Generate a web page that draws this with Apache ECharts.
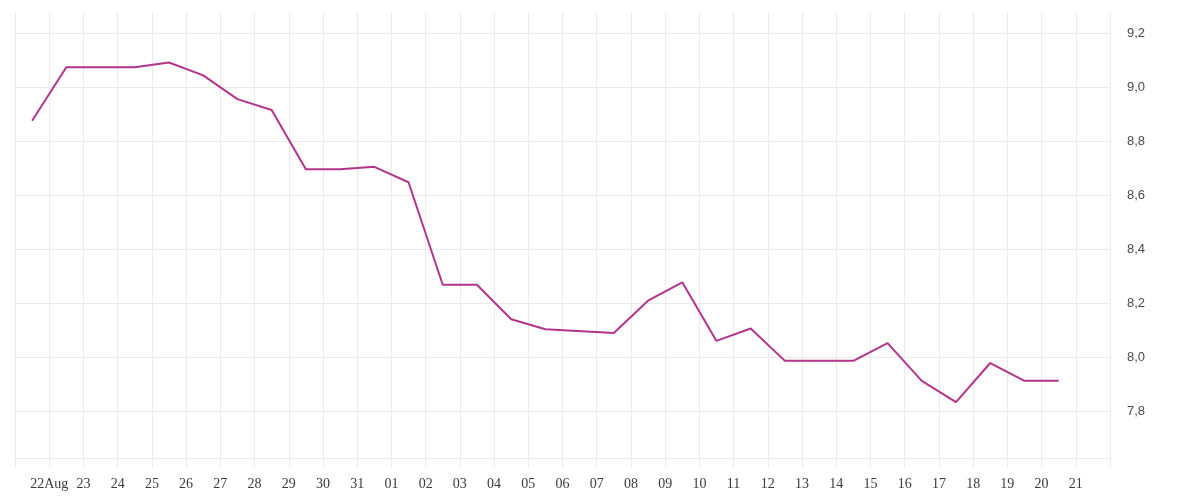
<!DOCTYPE html>
<html>
<head>
<meta charset="utf-8">
<script src="https://cdn.jsdelivr.net/npm/echarts@6/dist/echarts.min.js"></script>
<style>html,body{margin:0;padding:0;background:#fff}#c{width:1200px;height:500px}</style>
</head>
<body>
<div id="c"></div>
<script>
const dates = [
  "2024-08-21T12:00","2024-08-22T12:00","2024-08-24T12:00","2024-08-25T12:00",
  "2024-08-26T12:00","2024-08-27T12:00","2024-08-28T12:00","2024-08-29T12:00",
  "2024-08-30T12:00","2024-08-31T12:00","2024-09-01T12:00","2024-09-02T12:00",
  "2024-09-03T12:00","2024-09-04T12:00","2024-09-05T12:00","2024-09-07T12:00",
  "2024-09-08T12:00","2024-09-09T12:00","2024-09-10T12:00","2024-09-11T12:00",
  "2024-09-12T12:00","2024-09-14T12:00","2024-09-15T12:00","2024-09-16T12:00",
  "2024-09-17T12:00","2024-09-18T12:00","2024-09-19T12:00","2024-09-20T12:00"
];
const values = [
  8.877, 9.075, 9.075, 9.093,
  9.045, 8.957, 8.917, 8.697,
  8.697, 8.706, 8.649, 8.269,
  8.269, 8.141, 8.104, 8.090,
  8.210, 8.278, 8.061, 8.107,
  7.987, 7.987, 8.053, 7.913,
  7.834, 7.979, 7.913, 7.913
];
// Axis range (days) and value extent
const axisStart = "2024-08-21T00:00";
const axisDays = 32;
const monthNames = ["Jan","Feb","Mar","Apr","May","Jun","Jul","Aug","Sep","Oct","Nov","Dec"];
const yMin = 7.627, yMax = 9.28;

const DAY = 86400000;
const t0 = new Date(axisStart + "Z").getTime();
const seriesData = dates.map((d, i) => [(new Date(d + "Z").getTime() - t0) / DAY, values[i]]);

const chart = echarts.init(document.getElementById('c'), null, {renderer: 'canvas'});
const gridColor = '#ebebeb';
chart.setOption({
  animation: false,
  backgroundColor: '#ffffff',
  grid: {left: 15, right: 90, top: 12, bottom: 42, containLabel: false},
  xAxis: {
    type: 'value',
    min: 0, max: axisDays, interval: 1,
    axisLine: {show: true, lineStyle: {color: gridColor, width: 1}},
    axisTick: {show: true, length: 10, lineStyle: {color: gridColor}},
    splitLine: {show: true, lineStyle: {color: gridColor, width: 1}},
    axisLabel: {
      margin: 19,
      fontFamily: 'Liberation Serif',
      fontSize: 14,
      color: '#3a3a3a',
      formatter: function (v) {
        if (v <= 0 || v >= axisDays) return '';
        const d = new Date(t0 + v * DAY);
        const day = String(d.getUTCDate()).padStart(2, '0');
        return v === 1 ? day + monthNames[d.getUTCMonth()] : day;
      }
    }
  },
  yAxis: {
    type: 'value',
    position: 'right',
    min: yMin, max: yMax, splitNumber: 8,
    axisLine: {show: false},
    axisTick: {show: false},
    splitLine: {show: true, showMaxLine: false, lineStyle: {color: gridColor, width: 1}},
    axisLabel: {
      margin: 17,
      padding: [4, 0, 0, 0],
      showMinLabel: false, showMaxLabel: false,
      fontFamily: 'Liberation Sans',
      fontSize: 13,
      color: '#4a4a4a',
      formatter: function (v) {
        const r = Math.round(v * 5) / 5;
        if (Math.abs(r - v) > 1e-6) return '';
        return r.toFixed(1).replace('.', ',');
      }
    }
  },
  series: [{
    type: 'line',
    data: seriesData,
    showSymbol: false,
    symbol: 'none',
    lineStyle: {color: '#b3348c', width: 2},
    itemStyle: {color: '#b3348c'}
  }]
});
</script>
</body>
</html>
